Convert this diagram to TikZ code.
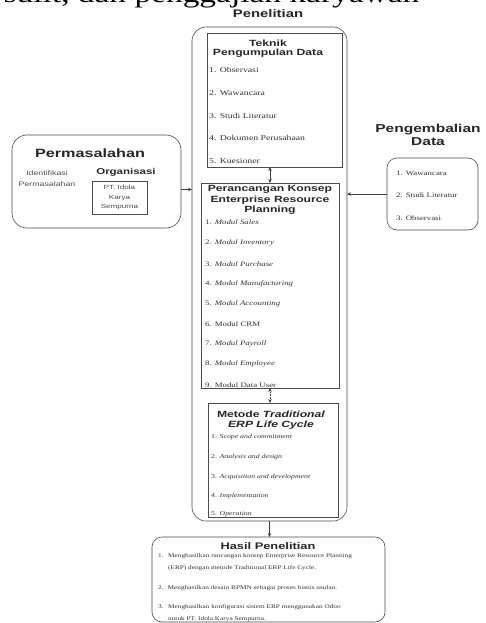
\documentclass[tikz,border=0pt]{standalone}
\usepackage{fontspec}
\setmainfont{Liberation Serif}
\newfontfamily\hfont{Liberation Sans}[FakeStretch=1.35]
\newfontfamily\rfont{Liberation Serif}[FakeStretch=1.3]
\usetikzlibrary{arrows.meta,calc}
\begin{document}
\begin{tikzpicture}[x=1pt,y=-1pt,
  box/.style={draw=black!70, line width=0.6pt, inner sep=0pt, outer sep=0pt, anchor=north west},
  ttl/.style={inner sep=0pt, align=center, text=black!85, font=\hfont\bfseries\fontsize{9}{11}\selectfont},
  itm/.style={inner sep=0pt, anchor=west, text=black!80, font=\rfont\fontsize{7.5}{9}\selectfont},
  sitm/.style={itm, font=\rfont\fontsize{6}{8}\selectfont},
  pitm/.style={itm, font=\rfont\fontsize{6.8}{8}\selectfont},
  hitm/.style={itm, font=\rfont\fontsize{5.6}{12}\selectfont},
  arr/.style={draw=black!75, line width=0.6pt, -{Stealth[length=4pt,width=3.5pt]}},
  darr/.style={draw=black!75, line width=0.6pt, {Stealth[length=4pt,width=3.5pt]}-{Stealth[length=4pt,width=3.5pt]}}
]
\useasboundingbox (0,0) rectangle (486,623);
\fill[white] (0,0) rectangle (486,623);
% cropped line of page text (only its lowest part is inside the picture)
\begin{scope}
\clip (0,0) rectangle (486,8);
\node[overlay, anchor=base west, inner sep=0pt, font=\rfont\fontsize{25.7}{26}\selectfont] (frag) at (3.5,2.5) {sulit, dan penggajian karyawan};
\end{scope}

% outer Penelitian box
\node[ttl, font=\hfont\bfseries\fontsize{11}{12}\selectfont] (lpen) at (268,14) {Penelitian};
\node[box, rounded corners=14pt, minimum width=155pt, minimum height=494pt] (outer) at (192,27) {};

% Teknik Pengumpulan Data
\node[box, minimum width=135pt, minimum height=134pt] (tek) at (207,33) {};
\node[ttl] (ttek) at (268,48.5) {Teknik\\[-1.5pt]Pengumpulan Data};
\node[itm] (tk1) at (209,70) {1. Observasi};
\node[itm] (tk2) at (209,93) {2. Wawancara};
\node[itm] (tk3) at (209,116) {3. Studi Literatur};
\node[itm] (tk4) at (209,138) {4. Dokumen Perusahaan};
\node[itm] (tk5) at (209,161) {5. Kuesioner};

% Perancangan Konsep ERP
\node[box, minimum width=138pt, minimum height=205pt] (per) at (201,183) {};
\node[ttl, font=\hfont\bfseries\fontsize{9}{10.5}\selectfont] (tper) at (270,200) {Perancangan Konsep\\Enterprise Resource\\Planning};
\node[pitm] (p1) at (205,222) {1. \textit{Modul Sales}};
\node[pitm] (p2) at (205,243) {2. \textit{Modul Inventory}};
\node[pitm] (p3) at (205,264) {3. \textit{Modul Purchase}};
\node[pitm] (p4) at (205,284) {4. \textit{Modul Manufacturing}};
\node[pitm] (p5) at (205,304) {5. \textit{Modul Accounting}};
\node[pitm] (p6) at (205,324) {6. Modul CRM};
\node[pitm] (p7) at (205,344) {7. \textit{Modul Payroll}};
\node[pitm] (p8) at (205,364) {8. \textit{Modul Employee}};
\node[pitm] (p9) at (205,385) {9. Modul Data User};

% Metode Traditional ERP Life Cycle
\node[box, minimum width=130pt, minimum height=114pt] (met) at (208,403) {};
\node[ttl] (tmet) at (271,420) {Metode \textit{Traditional}\\[-1pt]\textit{ERP Life Cycle}};
\node[sitm] (m1) at (211,437) {1. \textit{Scope and commitment}};
\node[sitm] (m2) at (211,457) {2. \textit{Analysis and design}};
\node[sitm] (m3) at (211,477) {3. \textit{Acquisition and development}};
\node[sitm] (m4) at (211,496) {4. \textit{Implementation}};
\node[sitm] (m5) at (211,514) {5. \textit{Operation}};

% Permasalahan
\node[box, rounded corners=15pt, minimum width=169pt, minimum height=93pt] (perm) at (12,135) {};
\node[ttl, font=\hfont\bfseries\fontsize{12}{13}\selectfont] (tperm) at (90,153) {Permasalahan};
\node[ttl, font=\hfont\fontsize{6.5}{11}\selectfont, text=black!70] (iden) at (47,179) {Identifikasi\\Permasalahan};
\node[ttl, font=\hfont\bfseries\fontsize{8.5}{10}\selectfont] (torg) at (126,172) {Organisasi};
\node[box, minimum width=55pt, minimum height=33pt] (org) at (92,181) {};
\node[ttl, font=\hfont\fontsize{6}{9.5}\selectfont, text=black!70] (torgt) at (org.center) {PT. Idola\\Karya\\Sempurna};

% Pengembalian Data
\node[ttl, font=\hfont\bfseries\fontsize{11.5}{13}\selectfont] (tpeng) at (428,135) {Pengembalian\\Data};
\node[box, rounded corners=10pt, minimum width=91pt, minimum height=72pt] (peng) at (387,158) {};
\node[pitm] (g1) at (396,173) {1. Wawancara};
\node[pitm] (g2) at (396,195) {2. Studi Literatur};
\node[pitm] (g3) at (396,218) {3. Observasi};

% Hasil Penelitian
\node[box, rounded corners=10pt, minimum width=233pt, minimum height=85pt] (has) at (152,537) {};
\node[ttl, font=\hfont\bfseries\fontsize{9.5}{11}\selectfont] (thas) at (268,546) {Hasil Penelitian};
\node[hitm] (h1n) at (158,556) {1.};
\node[hitm, anchor=north west, align=left] (h1) at (168,553) {Menghasilkan rancangan konsep Enterprise Resource Planning\\(ERP) dengan metode Traditional ERP Life Cycle.};
\node[hitm] (h2) at (158,588) {2.\hspace{4pt}Menghasilkan desain BPMN sebagai proses bisnis usulan.};
\node[hitm] (h3n) at (158,607) {3.};
\node[hitm, anchor=north west, align=left] (h3) at (168,604) {Menghasilkan konfigurasi sistem ERP menggunakan Odoo\\untuk PT. Idola Karya Sempurna.};

% connectors
\draw[darr] (per.north |- tek.south) -- (per.north);
\draw[darr, densely dotted] (per.south) -- (per.south |- met.north);
\draw[arr] ([yshift=-8pt]perm.east) -- ([yshift=-8pt]perm.east -| outer.west);
\draw[arr] (peng.west) -- (peng.west -| outer.east);
\draw[arr] (outer.south) -- (outer.south |- has.north);
\end{tikzpicture}
\end{document}
